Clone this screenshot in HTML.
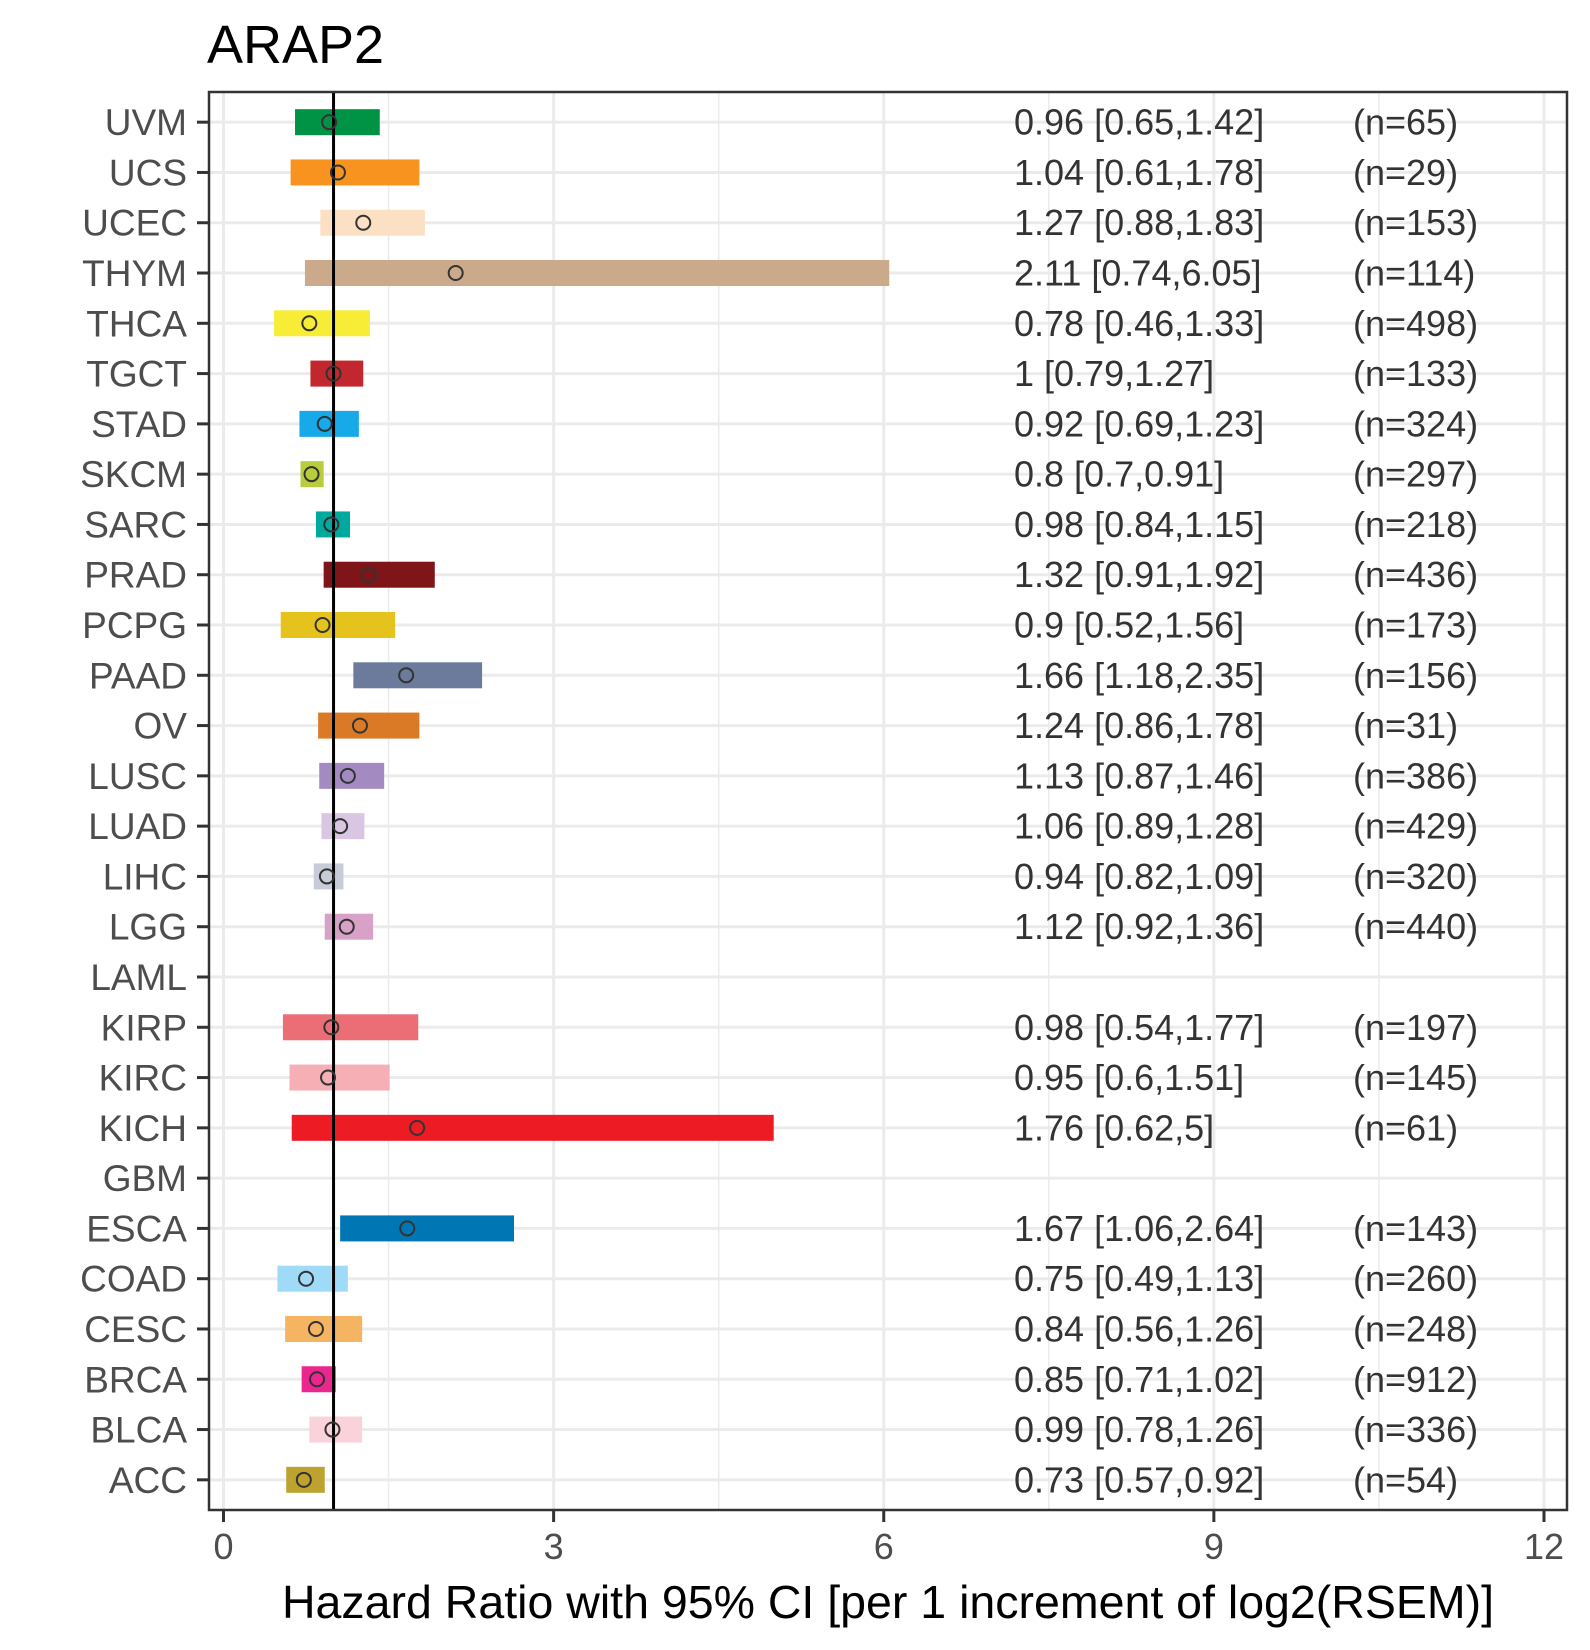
<!DOCTYPE html>
<html><head><meta charset="utf-8"><style>
body{margin:0;background:#fff}
svg{display:block;font-family:"Liberation Sans",Arial,sans-serif}
</style></head><body>
<svg id="chart" width="1590" height="1650" xmlns="http://www.w3.org/2000/svg">
<rect width="1590" height="1650" fill="#fff"/>
<text x="207" y="63" font-size="54" fill="#000">ARAP2</text>
<g id="grid"></g><g id="marks"></g><g id="labels"></g>
<rect x="209" y="92" width="1358" height="1418" fill="none" stroke="#333" stroke-width="2.5"/>
<text x="888" y="1618" font-size="46.5" text-anchor="middle" fill="#000">Hazard Ratio with 95% CI [per 1 increment of log2(RSEM)]</text>
</svg>
<script>
const cancers=["UVM","UCS","UCEC","THYM","THCA","TGCT","STAD","SKCM","SARC","PRAD","PCPG","PAAD","OV","LUSC","LUAD","LIHC","LGG","LAML","KIRP","KIRC","KICH","GBM","ESCA","COAD","CESC","BRCA","BLCA","ACC"];
const hr=[0.96,1.04,1.27,2.11,0.78,1,0.92,0.8,0.98,1.32,0.9,1.66,1.24,1.13,1.06,0.94,1.12,null,0.98,0.95,1.76,null,1.67,0.75,0.84,0.85,0.99,0.73];
const lower=[0.65,0.61,0.88,0.74,0.46,0.79,0.69,0.7,0.84,0.91,0.52,1.18,0.86,0.87,0.89,0.82,0.92,null,0.54,0.6,0.62,null,1.06,0.49,0.56,0.71,0.78,0.57];
const upper=[1.42,1.78,1.83,6.05,1.33,1.27,1.23,0.91,1.15,1.92,1.56,2.35,1.78,1.46,1.28,1.09,1.36,null,1.77,1.51,5,null,2.64,1.13,1.26,1.02,1.26,0.92];
const counts=[65,29,153,114,498,133,324,297,218,436,173,156,31,386,429,320,440,null,197,145,61,null,143,260,248,912,336,54];
const colors=["#009245","#F7931E","#FCE0C4","#CBAA8B","#F7EC36","#C1272D","#17A9E8","#B8CC3E","#00A99D","#7E1518","#E6C21D","#6C7A9C","#DA7A26","#A38AC1","#D8C6E2","#C8CBD8","#D8A1C8","#ccc","#EB6E77","#F5AFB5","#ED1C24","#ccc","#0077B4","#9FDBF7","#F5B461","#EC268F","#FAD2D9","#BDA22F"];
const xTicks=[0,3,6,9,12];
const NS="http://www.w3.org/2000/svg";
const L=209,R=1567,T=92,B=1510;
const x=v=>223.5+v*110.04;
const step=(B-T)/28.2;
const y=i=>T+(0.6+i)*step;
function mk(tag,attrs,parent){const e=document.createElementNS(NS,tag);for(const k in attrs)e.setAttribute(k,attrs[k]);document.getElementById(parent).appendChild(e);return e;}
for(let v=1.5;v<=12;v+=3){const g=mk('line',{x1:x(v),x2:x(v),y1:T,y2:B,stroke:'#ebebeb','stroke-width':1.5},'grid');

}
xTicks.forEach(v=>{const g=mk('line',{x1:x(v),x2:x(v),y1:T,y2:B,stroke:'#ebebeb','stroke-width':3},'grid');


const t=mk('line',{x1:x(v),x2:x(v),y1:B,y2:B+12,stroke:'#333','stroke-width':3},'labels');


const l=mk('text',{x:x(v),y:B+49,'font-size':36,'text-anchor':'middle',fill:'#4d4d4d'},'labels');l.textContent=v;

});
cancers.forEach((c,i)=>{const yy=y(i);
const g=mk('line',{x1:L,x2:R,y1:yy,y2:yy,stroke:'#ebebeb','stroke-width':3},'grid');


const t=mk('line',{x1:L-12,x2:L,y1:yy,y2:yy,stroke:'#333','stroke-width':3},'labels');


const l=mk('text',{x:187,y:yy+13,'font-size':37,'text-anchor':'end',fill:'#4d4d4d'},'labels');l.textContent=c;


if(hr[i]==null)return;
const b=mk('rect',{x:x(lower[i]),y:yy-13,width:x(upper[i])-x(lower[i]),height:26,fill:colors[i]},'marks');


const p=mk('circle',{cx:x(hr[i]),cy:yy,r:7,fill:'none',stroke:'#333','stroke-width':2},'labels');


const v=mk('text',{x:1014,y:yy+12.5,'font-size':36,fill:'#333'},'labels');v.textContent=hr[i]+' ['+lower[i]+','+upper[i]+']';


const n=mk('text',{x:1353,y:yy+12.5,'font-size':36,fill:'#333'},'labels');n.textContent='(n='+counts[i]+')';

});
const ref=mk('line',{x1:x(1),x2:x(1),y1:T,y2:B,stroke:'#000','stroke-width':3},'marks');


document.getElementById('marks').parentNode.appendChild(document.getElementById('labels'));
</script>
</body></html>
